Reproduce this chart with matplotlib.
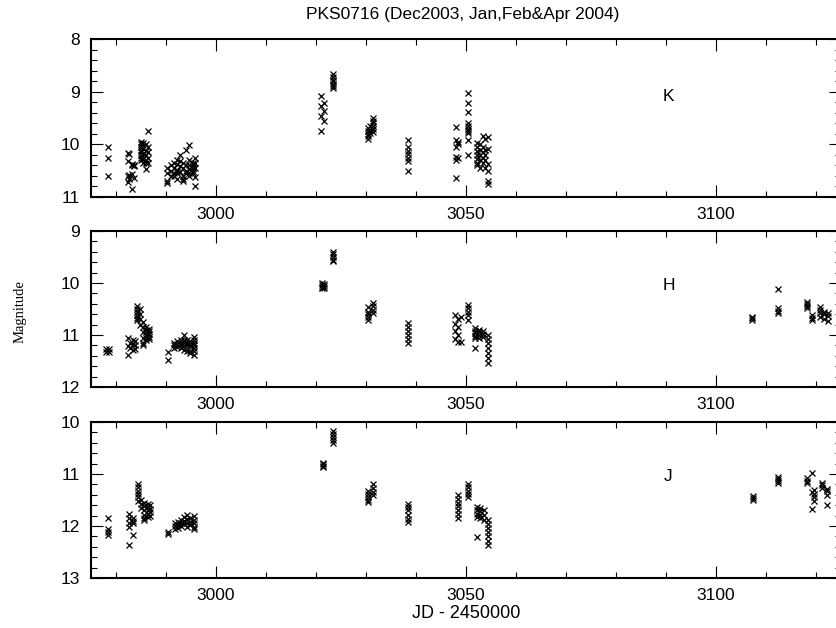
import matplotlib
matplotlib.use('Agg')
import matplotlib.pyplot as plt
from matplotlib.ticker import MultipleLocator

plt.rcParams['font.family'] = ['Liberation Sans', 'DejaVu Sans']

# K band: (JD - 2450000, magnitude), grouped by night
K_jd = [2978.3]*3 + [2982.3]*4 + [2982.6]*3 + [2983.2]*4 + [2983.6]*3 \
     + [2985.0]*8 + [2985.3]*5 + [2986.0]*6 + [2986.4]*5 \
     + [2990.2]*4 + [2991.0]*3 + [2991.6]*4 + [2992.2]*6 + [2992.8]*4 \
     + [2993.4]*5 + [2993.9]*4 + [2994.6]*6 + [2995.3]*5 + [2995.8]*5 \
     + [3021.0]*4 + [3021.6]*3 + [3023.3]*7 + [3030.3]*5 + [3030.8]*3 + [3031.3]*6 \
     + [3038.3]*7 + [3047.9]*6 + [3048.3]*3 + [3050.4]*10 \
     + [3052.1]*7 + [3052.7]*5 + [3053.3]*5 + [3053.8]*5 + [3054.3]*6
K_mag = [10.05, 10.26, 10.61,
         10.17, 10.31, 10.61, 10.72,
         10.18, 10.58, 10.66,
         10.37, 10.40, 10.56, 10.85,
         10.40, 10.42, 10.64,
         9.96, 10.0, 10.05, 10.1, 10.15, 10.2, 10.25, 10.3,
         9.98, 10.08, 10.18, 10.28, 10.35,
         10.0, 10.12, 10.2, 10.3, 10.36, 10.47,
         9.75, 10.05, 10.15, 10.25, 10.35,
         10.45, 10.55, 10.7, 10.73,
         10.4, 10.5, 10.6,
         10.35, 10.45, 10.55, 10.6,
         10.3, 10.38, 10.48, 10.5, 10.55, 10.65,
         10.2, 10.32, 10.42, 10.52,
         10.35, 10.45, 10.6, 10.66, 10.7,
         10.1, 10.4, 10.5, 10.55,
         10.02, 10.3, 10.4, 10.47, 10.55, 10.6,
         10.35, 10.4, 10.45, 10.5, 10.55,
         10.25, 10.35, 10.45, 10.62, 10.8,
         9.08, 9.28, 9.47, 9.74,
         9.21, 9.36, 9.56,
         8.67, 8.72, 8.77, 8.8, 8.85, 8.9, 8.93,
         9.69, 9.75, 9.8, 9.85, 9.9,
         9.65, 9.72, 9.78,
         9.5, 9.55, 9.6, 9.65, 9.7, 9.77,
         9.91, 10.05, 10.12, 10.18, 10.25, 10.31, 10.5,
         9.68, 9.92, 10.05, 10.24, 10.3, 10.63,
         9.95, 10.0, 10.25,
         9.03, 9.22, 9.39, 9.6, 9.65, 9.7, 9.75, 9.79, 9.92, 10.2,
         9.98, 10.05, 10.12, 10.2, 10.28, 10.35, 10.4,
         10.0, 10.1, 10.2, 10.3, 10.44,
         9.85, 10.05, 10.15, 10.25, 10.35,
         9.9, 10.1, 10.2, 10.3, 10.45,
         9.87, 10.08, 10.37, 10.5, 10.69, 10.75]

# H band
H_jd = [2978.0]*2 + [2978.6]*2 + [2982.3]*3 + [2982.8]*2 + [2983.3]*3 + [2983.7]*3 \
     + [2984.2]*6 + [2984.7]*4 + [2985.3]*6 + [2985.9]*6 + [2986.6]*5 \
     + [2990.3]*2 + [2991.5]*3 + [2992.2]*3 + [2992.9]*4 + [2993.6]*5 \
     + [2994.2]*4 + [2994.8]*5 + [2995.6]*7 \
     + [3021.1]*4 + [3021.5]*3 + [3023.3]*5 + [3030.3]*5 + [3031.3]*4 + [3038.3]*6 \
     + [3047.8]*4 + [3048.3]*4 + [3048.9]*2 + [3050.3]*5 \
     + [3051.8]*6 + [3052.6]*4 + [3053.4]*3 + [3054.3]*7 \
     + [3107.1]*3 + [3112.3]*4 + [3118.1]*4 + [3119.1]*3 \
     + [3120.8]*4 + [3121.6]*3 + [3122.4]*3
H_mag = [11.26, 11.32, 11.26, 11.32,
         11.06, 11.22, 11.38,
         11.15, 11.25,
         11.1, 11.18, 11.29,
         11.12, 11.2, 11.27,
         10.44, 10.5, 10.56, 10.62, 10.68, 10.71,
         10.5, 10.6, 10.7, 10.8,
         10.75, 10.85, 10.95, 11.05, 11.15, 11.19,
         10.85, 10.9, 10.95, 11.0, 11.05, 11.1,
         10.88, 10.93, 10.98, 11.03, 11.08,
         11.32, 11.49,
         11.15, 11.2, 11.25,
         11.12, 11.18, 11.23,
         11.1, 11.15, 11.2, 11.25,
         11.0, 11.1, 11.15, 11.22, 11.28,
         11.1, 11.15, 11.2, 11.3,
         11.12, 11.18, 11.22, 11.3, 11.35,
         11.03, 11.1, 11.15, 11.2, 11.25, 11.3, 11.38,
         10.0, 10.04, 10.08, 10.1,
         10.02, 10.06, 10.1,
         9.4, 9.45, 9.5, 9.55, 9.58,
         10.46, 10.55, 10.6, 10.65, 10.71,
         10.38, 10.45, 10.52, 10.58,
         10.77, 10.85, 10.92, 11.0, 11.08, 11.15,
         10.62, 10.78, 10.92, 11.07,
         10.7, 10.85, 11.0, 11.13,
         11.13, 10.65,
         10.42, 10.48, 10.55, 10.62, 10.71,
         10.87, 10.92, 10.97, 11.02, 11.06, 11.25,
         10.9, 10.95, 11.0, 11.05,
         10.92, 10.98, 11.03,
         11.0, 11.08, 11.15, 11.25, 11.35, 11.45, 11.54,
         10.65, 10.68, 10.72,
         10.12, 10.48, 10.53, 10.58,
         10.36, 10.4, 10.45, 10.49,
         10.62, 10.67, 10.71,
         10.46, 10.52, 10.58, 10.65,
         10.55, 10.6, 10.7,
         10.58, 10.64, 10.74]

# J band
J_jd = [2978.3]*4 + [2982.5]*5 + [2983.3]*4 + [2984.3]*6 + [2985.0]*3 + [2985.6]*6 \
     + [2986.3]*5 + [2986.8]*4 + [2990.3]*2 + [2991.8]*3 + [2992.4]*3 + [2993.0]*3 \
     + [2993.6]*3 + [2994.2]*4 + [2994.8]*3 + [2995.5]*5 \
     + [3021.3]*4 + [3023.3]*5 + [3030.3]*5 + [3031.3]*4 + [3038.3]*6 \
     + [3048.3]*7 + [3050.3]*5 + [3052.1]*5 + [3052.8]*4 + [3053.5]*3 + [3054.3]*7 \
     + [3107.3]*3 + [3112.3]*4 + [3118.1]*3 + [3119.1]*3 + [3119.6]*4 \
     + [3121.1]*3 + [3122.1]*4
J_mag = [11.84, 12.05, 12.12, 12.18,
         11.76, 11.85, 11.95, 12.02, 12.37,
         11.85, 11.9, 11.95, 12.18,
         11.19, 11.25, 11.32, 11.38, 11.45, 11.51,
         11.5, 11.58, 11.65,
         11.55, 11.62, 11.7, 11.78, 11.85, 11.89,
         11.58, 11.64, 11.7, 11.76, 11.82,
         11.6, 11.68, 11.74, 11.8,
         12.12, 12.15,
         11.95, 12.0, 12.05,
         11.92, 11.98, 12.03,
         11.88, 11.95, 12.0,
         11.82, 11.9, 11.97,
         11.78, 11.86, 11.95, 12.02,
         11.85, 11.92, 11.98,
         11.8, 11.88, 11.95, 12.02, 12.06,
         10.78, 10.81, 10.84, 10.87,
         10.17, 10.23, 10.29, 10.35, 10.4,
         11.32, 11.38, 11.44, 11.5, 11.54,
         11.19, 11.26, 11.34, 11.41,
         11.57, 11.64, 11.7, 11.78, 11.86, 11.93,
         11.41, 11.48, 11.55, 11.62, 11.7, 11.77, 11.85,
         11.19, 11.25, 11.32, 11.38, 11.45,
         11.64, 11.7, 11.76, 11.82, 12.21,
         11.66, 11.72, 11.78, 11.85,
         11.7, 11.78, 11.89,
         11.89, 11.96, 12.04, 12.12, 12.2, 12.28, 12.37,
         11.42, 11.46, 11.5,
         11.05, 11.09, 11.13, 11.17,
         11.08, 11.13, 11.17,
         10.99, 11.35, 11.67,
         11.3, 11.38, 11.45, 11.51,
         11.18, 11.22, 11.26,
         11.28, 11.32, 11.41, 11.6]

bands = ['K', 'H', 'J']
jds = [K_jd, H_jd, J_jd]
mags = [K_mag, H_mag, J_mag]
ylims = [(11, 8), (12, 9), (13, 10)]
label_y = [9.1, 10.05, 11.05]

W, H = 837, 628
fig = plt.figure(figsize=(W / 100, H / 100), dpi=100)

# pixel boxes of the three panels (top, bottom)
boxes = [(39, 197), (231, 387), (422, 578)]
left, right = 91, 841

for i in range(3):
    top, bot = boxes[i]
    ax = fig.add_axes([left / W, 1 - bot / H, (right - left) / W, (bot - top) / H])
    ax.plot(jds[i], mags[i], 'x', color='black', ms=3.8, mew=0.9)
    ax.set_xlim(2975, 3125)
    ax.set_ylim(*ylims[i])
    ax.xaxis.set_major_locator(MultipleLocator(50))
    ax.xaxis.set_minor_locator(MultipleLocator(10))
    ax.yaxis.set_major_locator(MultipleLocator(1))
    ax.yaxis.set_minor_locator(MultipleLocator(0.2))
    ax.tick_params(which='both', direction='in', top=True, right=True, width=0.8,
                   labelsize=12.5)
    ax.tick_params(which='major', length=8.5)
    ax.tick_params(which='minor', length=4.3)
    ax.tick_params(axis='y', pad=8)
    ax.tick_params(axis='x', pad=7)
    for s in ax.spines.values():
        s.set_linewidth(1.5)
    ax.text(3090.5, label_y[i], bands[i], fontsize=12.5, ha='center', va='center')
    if i == 2:
        ax.set_xlabel('JD - 2450000', fontsize=13, labelpad=2)

fig.text(463 / W, 1 - 14 / H, 'PKS0716 (Dec2003, Jan,Feb&Apr 2004)', ha='center',
         va='center', fontsize=12.5)
fig.text(20 / W, 1 - 312 / H, 'Magnitude', rotation=90, ha='center', va='center',
         fontsize=10.5, family=['Liberation Serif', 'DejaVu Serif'])

fig.savefig('out.png', dpi=100)
